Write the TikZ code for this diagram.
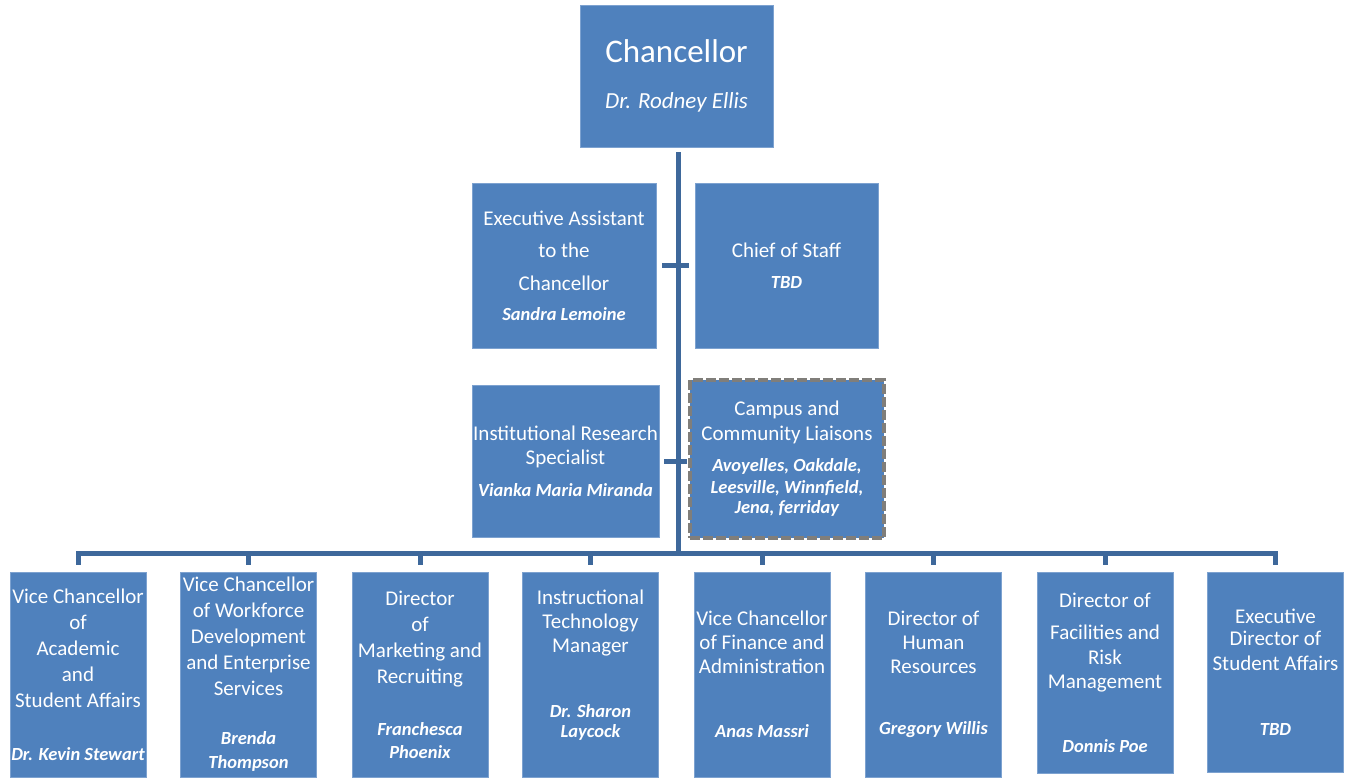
\documentclass[tikz,border=0pt]{standalone}
\usepackage{fontspec}
\setmainfont{Carlito}
\definecolor{boxblue}{RGB}{79,129,189}
\definecolor{boxedge}{RGB}{125,162,208}
\definecolor{linkblue}{RGB}{62,104,155}
\definecolor{dashgray}{RGB}{128,126,122}
\newcommand{\nm}{\fontsize{18.5}{22}\selectfont\bfseries\itshape}

\begin{document}
\begin{tikzpicture}[x=1pt,y=-1pt,
    box/.style={draw=boxedge, line width=0.8pt, fill=boxblue, text=white,
        align=center, inner sep=0pt, font=\fontsize{21}{26}\selectfont},
    lowbox/.style={box, minimum width=136pt, minimum height=205pt},
    link/.style={draw=linkblue, line width=5pt}]
    \useasboundingbox (0,0) rectangle (1356,777);
    % Top of the chart
    \node[box, minimum width=193pt, minimum height=142pt] (chanc) at (676.5,76)
        {{\fontsize{33}{40}\selectfont Chancellor}\\[20pt]{\fontsize{23}{28}\selectfont\itshape Dr. Rodney Ellis}};
    % Staff beside the trunk
    \node[box, minimum width=184pt, minimum height=165pt] (assist) at (564,265.5)
        {Executive Assistant\\[6.5pt]to the\\[6.5pt]Chancellor\\[4pt]{\nm Sandra Lemoine}};
    \node[box, minimum width=183pt, minimum height=165pt] (staff) at (786.5,265.5)
        {Chief of Staff\\[5pt]{\nm TBD}};
    \node[box, minimum width=187pt, minimum height=152pt] (research) at (565.5,461)
        {Institutional Research\\[-2pt]Specialist\\[6pt]{\nm Vianka Maria Miranda}};
    \node[box, draw=dashgray, line width=4pt, dash pattern=on 10pt off 3pt,
        minimum width=194pt, minimum height=158pt] (liaison) at (787,459)
        {Campus and\\[-1pt]Community Liaisons\\[5pt]{\nm Avoyelles, Oakdale,}\\[-4pt]{\nm Leesville, Winnfield,}\\[-6pt]{\nm Jena, ferriday}};
    % Bottom row
    \node[lowbox] (academic) at (78,674.5)
        {Vice Chancellor\\of\\Academic\\and\\Student Affairs\\[27pt]{\nm Dr. Kevin Stewart}};
    \node[lowbox] (workforce) at (248.5,674.5)
        {Vice Chancellor\\of Workforce\\Development\\and Enterprise\\Services\\[23pt]{\nm Brenda}\\[-2pt]{\nm Thompson}};
    \node[lowbox] (marketing) at (420,674.5)
        {Director\\of\\Marketing and\\Recruiting\\[26pt]{\nm Franchesca}\\[-3pt]{\nm Phoenix}};
    \node[lowbox] (itech) at (590.5,674.5)
        {Instructional\\[-2pt]Technology\\[-2pt]Manager\\[39pt]{\nm Dr. Sharon}\\[-6pt]{\nm Laycock}\\[-4pt]\mbox{}};
    \node[lowbox] (finance) at (762,674.5)
        {Vice Chancellor\\[-2pt]of Finance and\\[-2pt]Administration\\[38pt]{\nm Anas Massri}};
    \node[lowbox] (hr) at (933.5,674.5)
        {Director of\\[-2pt]Human\\[-2pt]Resources\\[35pt]{\nm Gregory Willis}};
    \node[lowbox, minimum height=201pt] (facilities) at (1105,672.5)
        {Director of\\[6pt]Facilities and\\[-1pt]Risk\\[-2pt]Management\\[38pt]{\nm Donnis Poe}};
    \node[lowbox, minimum height=200pt] (students) at (1275.5,672)
        {Executive\\[-4pt]Director of\\[-1pt]Student Affairs\\[39pt]{\nm TBD}};
    % Connectors
    \coordinate (bus) at (678,553);
    \draw[link, shorten <=5pt] (chanc.south -| bus) -- (bus);
    \draw[link, shorten <=6pt, shorten >=6pt] (assist) -- (staff);
    \draw[link, shorten <=5pt, shorten >=1pt] (research.east) -- (research.east -| liaison.west);
    \draw[link, line cap=rect] (academic.north |- bus) -- (students.north |- bus);
    \draw[link, shorten >=7pt] (academic.north |- bus) -- (academic.north);
    \draw[link, shorten >=7pt] (workforce.north |- bus) -- (workforce.north);
    \draw[link, shorten >=7pt] (marketing.north |- bus) -- (marketing.north);
    \draw[link, shorten >=7pt] (itech.north |- bus) -- (itech.north);
    \draw[link, shorten >=7pt] (finance.north |- bus) -- (finance.north);
    \draw[link, shorten >=7pt] (hr.north |- bus) -- (hr.north);
    \draw[link, shorten >=7pt] (facilities.north |- bus) -- (facilities.north);
    \draw[link, shorten >=7pt] (students.north |- bus) -- (students.north);
\end{tikzpicture}
\end{document}
